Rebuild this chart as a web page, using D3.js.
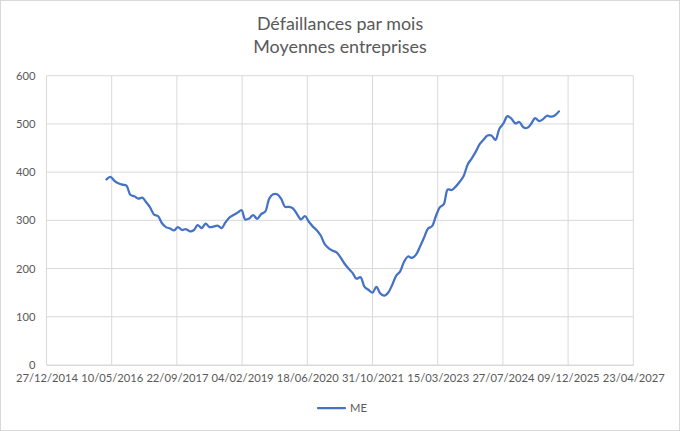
<!DOCTYPE html>
<html>
<head>
<meta charset="utf-8">
<script src="https://cdn.jsdelivr.net/npm/d3@7"></script>
<style>
  html, body { margin: 0; padding: 0; background: #fff; }
  svg { display: block; }
</style>
</head>
<body>
<div id="chart"></div>
<script>
// Série mensuelle (fin de mois), de mars 2016 à septembre 2025
const firstMonth = "2016-03";
const seriesName = "ME";
const meValues = [
  385, 390, 382, 377, 374, 372, 353, 350, 345, 347,
  337, 327, 312, 309, 294, 286, 283, 279, 286, 280,
  282, 277, 280, 290, 284, 293, 286, 287, 289, 284,
  296, 306, 311, 316, 321, 302, 304, 311, 303, 313,
  318, 345, 354, 354, 345, 328, 328, 325, 313, 302,
  309, 297, 287, 279, 268, 250, 242, 237, 233, 223,
  210, 200, 191, 179, 182, 162, 156, 150, 162, 148,
  144, 150, 166, 185, 194, 214, 225, 222, 229, 246,
  264, 283, 288, 308, 327, 333, 364, 363, 370, 380,
  392, 416, 428, 442, 458, 467, 476, 476, 467, 490,
  501, 516, 511, 501, 504, 493, 492, 500, 512, 506,
  510, 517, 515, 518, 526
];
const xTickLabels = [
  "27/12/2014", "10/05/2016", "22/09/2017", "04/02/2019", "18/06/2020",
  "31/10/2021", "15/03/2023", "27/07/2024", "09/12/2025", "23/04/2027"
];
const yTicks = [0, 100, 200, 300, 400, 500, 600];
const titleLines = ["Défaillances par mois", "Moyennes entreprises"];

const W = 680, H = 431;
const plot = { left: 46.5, right: 633.3, top: 75.7, bottom: 365 };
const gridColor = "#d9d9d9";
const textColor = "#595959";
const lineColor = "#4472c4";
const font = "Lato, 'Open Sans', sans-serif";

const parseTick = d3.utcParse("%d/%m/%Y");
const tickDates = xTickLabels.map(parseTick);
const start = d3.utcParse("%Y-%m")(firstMonth);

// dernier jour de chaque mois
const data = meValues.map((v, i) => ({
  date: d3.utcDay.offset(d3.utcMonth.offset(start, i + 1), -1),
  value: v
}));

const svg = d3.select("#chart")
  .append("svg")
  .attr("width", W)
  .attr("height", H);

svg.append("rect")
  .attr("x", 0.5).attr("y", 0.5)
  .attr("width", W - 1).attr("height", H - 1)
  .attr("fill", "#fff")
  .attr("stroke", gridColor);

const x = d3.scaleUtc()
  .domain([tickDates[0], tickDates[tickDates.length - 1]])
  .range([plot.left, plot.right]);

const y = d3.scaleLinear()
  .domain([0, 600])
  .range([plot.bottom, plot.top]);

// Grille horizontale
svg.append("g")
  .selectAll("line")
  .data(yTicks)
  .join("line")
  .attr("x1", plot.left).attr("x2", plot.right)
  .attr("y1", d => y(d)).attr("y2", d => y(d))
  .attr("stroke", gridColor)
  .attr("stroke-width", 1);

// Grille verticale
svg.append("g")
  .selectAll("line")
  .data(tickDates)
  .join("line")
  .attr("x1", d => x(d)).attr("x2", d => x(d))
  .attr("y1", plot.top).attr("y2", plot.bottom)
  .attr("stroke", gridColor)
  .attr("stroke-width", 1);

// Axe X
const xAxis = svg.append("g")
  .attr("transform", `translate(0,${plot.bottom})`)
  .call(d3.axisBottom(x)
    .tickValues(tickDates)
    .tickFormat(d3.utcFormat("%d/%m/%Y"))
    .tickSize(0)
    .tickPadding(9));
xAxis.select(".domain").attr("stroke", gridColor);
xAxis.selectAll("text")
  .attr("fill", textColor)
  .style("font-family", font)
  .style("font-size", "11.2px");

// Axe Y
const yAxis = svg.append("g")
  .attr("transform", `translate(${plot.left},0)`)
  .call(d3.axisLeft(y)
    .tickValues(yTicks)
    .tickSize(0)
    .tickPadding(11));
yAxis.select(".domain").remove();
yAxis.selectAll("text")
  .attr("fill", textColor)
  .style("font-family", font)
  .style("font-size", "11.2px");

// Courbe
const line = d3.line()
  .x(d => x(d.date))
  .y(d => y(d.value))
  .curve(d3.curveCatmullRom.alpha(0.5));

svg.append("path")
  .datum(data)
  .attr("fill", "none")
  .attr("stroke", lineColor)
  .attr("stroke-width", 2.25)
  .attr("stroke-linejoin", "round")
  .attr("stroke-linecap", "round")
  .attr("d", line);

// Titre
svg.append("g")
  .selectAll("text")
  .data(titleLines)
  .join("text")
  .attr("x", W / 2)
  .attr("y", (d, i) => 30 + i * 23)
  .attr("text-anchor", "middle")
  .attr("fill", textColor)
  .style("font-family", font)
  .style("font-size", "17.9px")
  .text(d => d);

// Légende
const legend = svg.append("g").attr("transform", "translate(318,408)");
legend.append("line")
  .attr("x1", 0).attr("x2", 27)
  .attr("stroke", lineColor)
  .attr("stroke-width", 2.25)
  .attr("stroke-linecap", "round");
legend.append("text")
  .attr("x", 32)
  .attr("dy", "0.35em")
  .attr("fill", textColor)
  .style("font-family", font)
  .style("font-size", "11.2px")
  .text(seriesName);
</script>
</body>
</html>
